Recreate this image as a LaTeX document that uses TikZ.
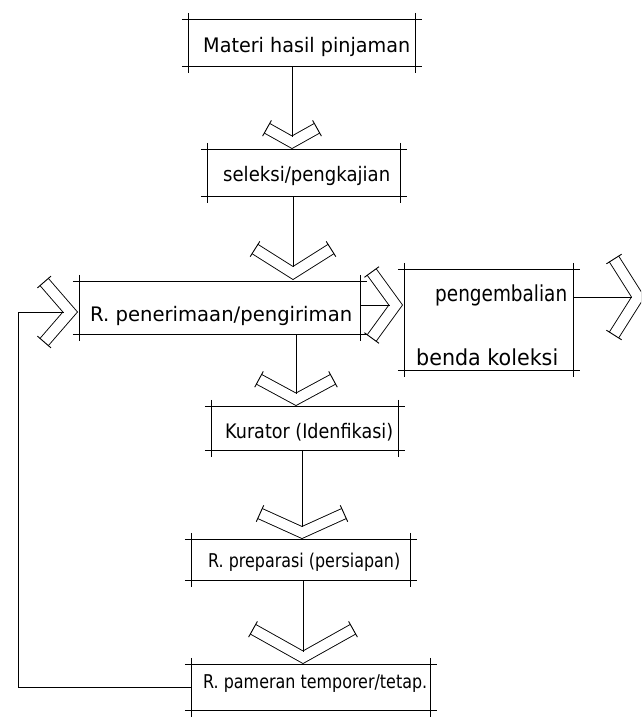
\documentclass[tikz,border=0pt]{standalone}
\usepackage{fontspec}
\setmainfont{DejaVu Sans}
\usepackage{graphicx}
\usetikzlibrary{calc,fit}

\tikzset{
  x=1pt, y=-1pt,
  lbl/.style={inner sep=0pt, anchor=base west},
  conn/.style={line width=0.9pt},
  chevline/.style={double, double distance=10pt, line width=0.9pt, line join=miter, line cap=butt},
  boxline/.style={line width=0.9pt},
  framebox/.style={inner sep=0pt, draw=none}
}

% box with lines running past the corners
\newcommand\dbox[5]{%
  \path (#2,#3) coordinate (#1-a) (#4,#5) coordinate (#1-b);
  \node[framebox, fit=(#1-a)(#1-b)] (#1) {};
  \draw[boxline] ($(#1.north west)+(-7,0)$) -- ($(#1.north east)+(7,0)$);
  \draw[boxline] ($(#1.south west)+(-7,0)$) -- ($(#1.south east)+(7,0)$);
  \draw[boxline] ($(#1.north west)+(0,-7)$) -- ($(#1.south west)+(0,7)$);
  \draw[boxline] ($(#1.north east)+(0,-7)$) -- ($(#1.south east)+(0,7)$);
}

% open chevron arrow: name, x, y (outer tip), angle, half spread, depth
\newcommand\chev[6]{%
  \pgfmathsetmacro\chL{veclen(#5,#6)}%
  \pgfmathsetmacro\chA{5.9*\chL/#5}%
  \pgfmathsetmacro\chB{10.9*\chL/#5}%
  \begin{scope}[shift={(#2,#3)}, rotate=#4]
    \coordinate (#1) at (0,0);
    \coordinate (#1-in) at (0,-\chB);
    \coordinate (#1-c) at (0,-\chA);
    \coordinate (#1-l) at (-#5,-\chA-#6);
    \coordinate (#1-r) at (#5,-\chA-#6);
  \end{scope}
  \draw[chevline] (#1-l) -- (#1-c) -- (#1-r);
  \draw[boxline] ($(#1-l)!9pt!90:(#1-c)$) -- ($(#1-l)!9pt!-90:(#1-c)$);
  \draw[boxline] ($(#1-r)!9pt!90:(#1-c)$) -- ($(#1-r)!9pt!-90:(#1-c)$);
}

\begin{document}
\begin{tikzpicture}
\useasboundingbox (0,0) rectangle (641,721);
\clip (0,0) rectangle (641,721);
\fill[white] (0,0) rectangle (641,721);

% boxes
\dbox{b1}{189}{20}{415}{66}
\dbox{b2}{208}{150}{400}{196}
\dbox{b3}{80}{282}{360}{334}
\dbox{b4}{405}{270}{573}{370}
\dbox{b5}{212}{407}{398}{450}
\dbox{b6}{192}{540}{410}{580}
\dbox{b7}{192}{665}{430}{710}

% texts
\node[lbl, font=\fontsize{20}{20}\selectfont] (t1) at (203,52) {\resizebox{207pt}{\height}{Materi hasil pinjaman}};
\node[lbl, font=\fontsize{20}{20}\selectfont] (t2) at (223,181) {\resizebox{167pt}{\height}{seleksi/pengkajian}};
\node[lbl, font=\fontsize{20}{20}\selectfont] (t3) at (90,321) {\resizebox{262pt}{\height}{R. penerimaan/pengiriman}};
\node[lbl, font=\fontsize{22}{22}\selectfont] (t4a) at (435,301) {\resizebox{132pt}{\height}{pengembalian}};
\node[lbl, font=\fontsize{22}{22}\selectfont] (t4b) at (416,365) {\resizebox{142pt}{\height}{benda koleksi}};
\node[lbl, font=\fontsize{20}{20}\selectfont] (t5) at (225,438) {\resizebox{168pt}{\height}{Kurator (Idenfikasi)}};
\node[lbl, font=\fontsize{19}{19}\selectfont] (t6) at (208,567) {\resizebox{192pt}{\height}{R. preparasi (persiapan)}};
\node[lbl, font=\fontsize{19}{19}\selectfont] (t7) at (203,688) {\resizebox{224pt}{\height}{R. pameran temporer/tetap.}};

% chevrons
\chev{ch1}{292}{149}{0}{25}{14}
\chev{ch2}{293}{280}{0}{38}{24}
\chev{ch3}{296}{406}{0}{37}{20}
\chev{ch4}{302}{539}{0}{42}{19}
\chev{ch5}{303}{664}{0}{50}{28}
\chev{chL}{78}{312}{90}{30}{26}
\chev{chR}{403}{305}{90}{33}{24}
\chev{chF}{645}{297}{90}{38}{24}

% connectors
\coordinate (fb) at (18,0);
\draw[conn] (b1.south -| ch1-in) -- (ch1-in);
\draw[conn] (b2.south -| ch2-in) -- (ch2-in);
\draw[conn] (b3.south -| ch3-in) -- (ch3-in);
\draw[conn] (b5.south -| ch4-in) -- (ch4-in);
\draw[conn] (b6.south -| ch5-in) -- (ch5-in);
\draw[conn] (b3.east |- chR-in) -- (chR-in);
\draw[conn] (b4.east |- chF-in) -- (chF-in);
\draw[conn] (b7.west) -- (b7.west -| fb) -- (fb |- chL-in) -- (chL-in);
\end{tikzpicture}
\end{document}
